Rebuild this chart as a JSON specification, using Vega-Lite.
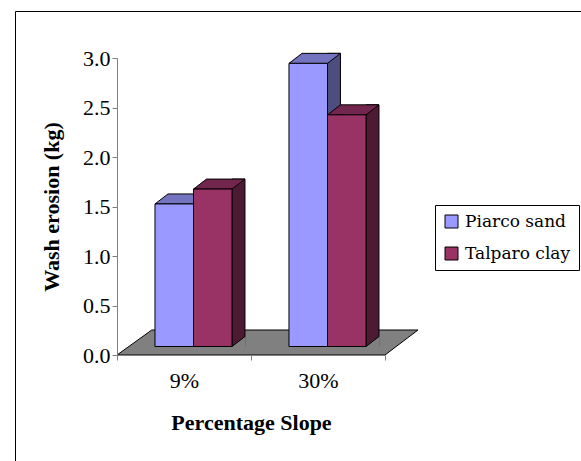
{
  "$schema": "https://vega.github.io/schema/vega-lite/v6.json",
  "width": 570,
  "height": 455,
  "autosize": {"type": "none"},
  "padding": {"left": 15, "top": 11, "right": 0, "bottom": 0},
  "background": "white",
  "config": {
    "view": {"stroke": "black", "strokeWidth": 1},
    "font": "Liberation Serif"
  },
  "data": {
    "values": [
      {"slope": "9%", "soil": "Piarco sand", "value": 1.44},
      {"slope": "9%", "soil": "Talparo clay", "value": 1.59},
      {"slope": "30%", "soil": "Piarco sand", "value": 2.86},
      {"slope": "30%", "soil": "Talparo clay", "value": 2.34}
    ]
  },
  "resolve": {"scale": {"x": "independent", "y": "independent", "color": "independent", "xOffset": "independent"}},
  "layer": [
    {
      "data": {"values": [{}]},
      "mark": {"type": "point", "shape": "M-0.268,0L0.804,0L0.936,-0.1L-0.129,-0.1Z", "size": 250000, "filled": true, "fill": "#808080", "stroke": "black", "strokeWidth": 1, "opacity": 1},
      "encoding": {
        "x": {"datum": "9%", "type": "nominal",
          "scale": {"type": "band", "domain": ["9%", "30%"], "range": [102, 370], "paddingInner": 0, "paddingOuter": 0},
          "axis": {"orient": "bottom", "offset": -111, "zindex": 1, "tickBand": "extent", "domainColor": "#808080", "tickColor": "#808080", "tickSize": 5, "labelFont": "Liberation Serif", "labelFontSize": 22, "labelColor": "black", "labelPadding": 10, "labelAngle": 0, "title": "Percentage Slope", "titleFont": "Liberation Serif", "titleFontSize": 22, "titleFontWeight": "bold", "titleColor": "black", "titlePadding": 21}},
        "y": {"datum": 0, "type": "quantitative",
          "scale": {"domain": [0, 3], "range": [344, 47], "nice": false},
          "axis": {"orient": "left", "offset": -102, "zindex": 1, "values": [0, 0.5, 1, 1.5, 2, 2.5, 3], "format": ".1f", "grid": false, "domainColor": "#808080", "tickColor": "#808080", "tickSize": 5, "labelFont": "Liberation Serif", "labelFontSize": 22, "labelColor": "black", "labelPadding": 2, "title": "Wash erosion (kg)", "titleFont": "Liberation Serif", "titleFontSize": 22, "titleFontWeight": "bold", "titleColor": "black", "titlePadding": 19}}
      }
    },
    {
      "mark": {"type": "bar", "stroke": "black", "strokeWidth": 1, "yOffset": -10},
      "encoding": {
        "x": {"field": "slope", "type": "nominal", "scale": {"type": "band", "domain": ["9%", "30%"], "range": [111.5, 379.5], "paddingInner": 0.425, "paddingOuter": 0.2125}, "axis": null},
        "xOffset": {"field": "soil", "type": "nominal", "scale": {"type": "band", "domain": ["Piarco sand", "Talparo clay"], "range": [38.5, 90], "paddingInner": 0.6623, "paddingOuter": 0}},
        "y": {"field": "value", "type": "quantitative", "stack": null, "scale": {"domain": [0, 3], "range": [335.5, 38.5], "nice": false}, "axis": null},
        "color": {"field": "soil", "type": "nominal", "scale": {"domain": ["Piarco sand", "Talparo clay"], "range": ["#4D4D80", "#4D1A33"]}, "legend": null}
      }
    },
    {
      "mark": {"type": "point", "shape": "M0.385,0L0.645,-0.2L0.66,-0.2L0.66,0.012L0.385,0.012Z", "size": 10000, "filled": true, "fill": "#808080", "strokeWidth": 0, "opacity": 1},
      "encoding": {
        "x": {"field": "slope", "type": "nominal", "scale": {"type": "band", "domain": ["9%", "30%"], "range": [111.5, 379.5], "paddingInner": 0.425, "paddingOuter": 0.2125}, "axis": null},
        "xOffset": {"field": "soil", "type": "nominal", "scale": {"type": "band", "domain": ["Piarco sand", "Talparo clay"]}},
        "y": {"datum": 0, "type": "quantitative", "scale": {"domain": [0, 3], "range": [335.5, 38.5], "nice": false}, "axis": null}
      }
    },
    {
      "mark": {"type": "point", "shape": "M0.385,0L0.645,-0.2", "size": 10000, "filled": false, "color": "black", "fill": "transparent", "strokeWidth": 1, "opacity": 1},
      "encoding": {
        "x": {"field": "slope", "type": "nominal", "scale": {"type": "band", "domain": ["9%", "30%"], "range": [111.5, 379.5], "paddingInner": 0.425, "paddingOuter": 0.2125}, "axis": null},
        "xOffset": {"field": "soil", "type": "nominal", "scale": {"type": "band", "domain": ["Piarco sand", "Talparo clay"]}},
        "y": {"datum": 0, "type": "quantitative", "scale": {"domain": [0, 3], "range": [335.5, 38.5], "nice": false}, "axis": null}
      }
    },
    {
      "mark": {"type": "point", "shape": "M-0.385,0L0.385,0L0.645,-0.2L-0.125,-0.2Z", "size": 10000, "filled": true, "stroke": "black", "strokeWidth": 1, "opacity": 1},
      "encoding": {
        "x": {"field": "slope", "type": "nominal", "scale": {"type": "band", "domain": ["9%", "30%"], "range": [111.5, 379.5], "paddingInner": 0.425, "paddingOuter": 0.2125}, "axis": null},
        "xOffset": {"field": "soil", "type": "nominal", "scale": {"type": "band", "domain": ["Piarco sand", "Talparo clay"]}},
        "y": {"field": "value", "type": "quantitative", "scale": {"domain": [0, 3], "range": [335.5, 38.5], "nice": false}, "axis": null},
        "color": {"field": "soil", "type": "nominal", "scale": {"domain": ["Piarco sand", "Talparo clay"], "range": ["#7373BF", "#73264D"]}, "legend": null}
      }
    },
    {
      "mark": {"type": "bar", "stroke": "black", "strokeWidth": 1},
      "encoding": {
        "x": {"field": "slope", "type": "nominal", "scale": {"type": "band", "domain": ["9%", "30%"], "range": [111.5, 379.5], "paddingInner": 0.425, "paddingOuter": 0.2125}, "axis": null},
        "xOffset": {"field": "soil", "type": "nominal", "scale": {"type": "band", "domain": ["Piarco sand", "Talparo clay"]}},
        "y": {"field": "value", "type": "quantitative", "stack": null, "scale": {"domain": [0, 3], "range": [335.5, 38.5], "nice": false}, "axis": null},
        "color": {"field": "soil", "type": "nominal", "scale": {"domain": ["Piarco sand", "Talparo clay"], "range": ["#9999FF", "#993366"]},
          "legend": {"orient": "none", "legendX": 420, "legendY": 194, "title": null, "strokeColor": "black", "fillColor": "white", "padding": 8, "labelFont": "DejaVu Serif", "labelFontSize": 17, "labelColor": "black", "labelLimit": 300, "symbolType": "square", "symbolSize": 169, "symbolStrokeColor": "black", "symbolStrokeWidth": 1, "rowPadding": 14, "labelOffset": 5}}
      }
    }
  ]
}
